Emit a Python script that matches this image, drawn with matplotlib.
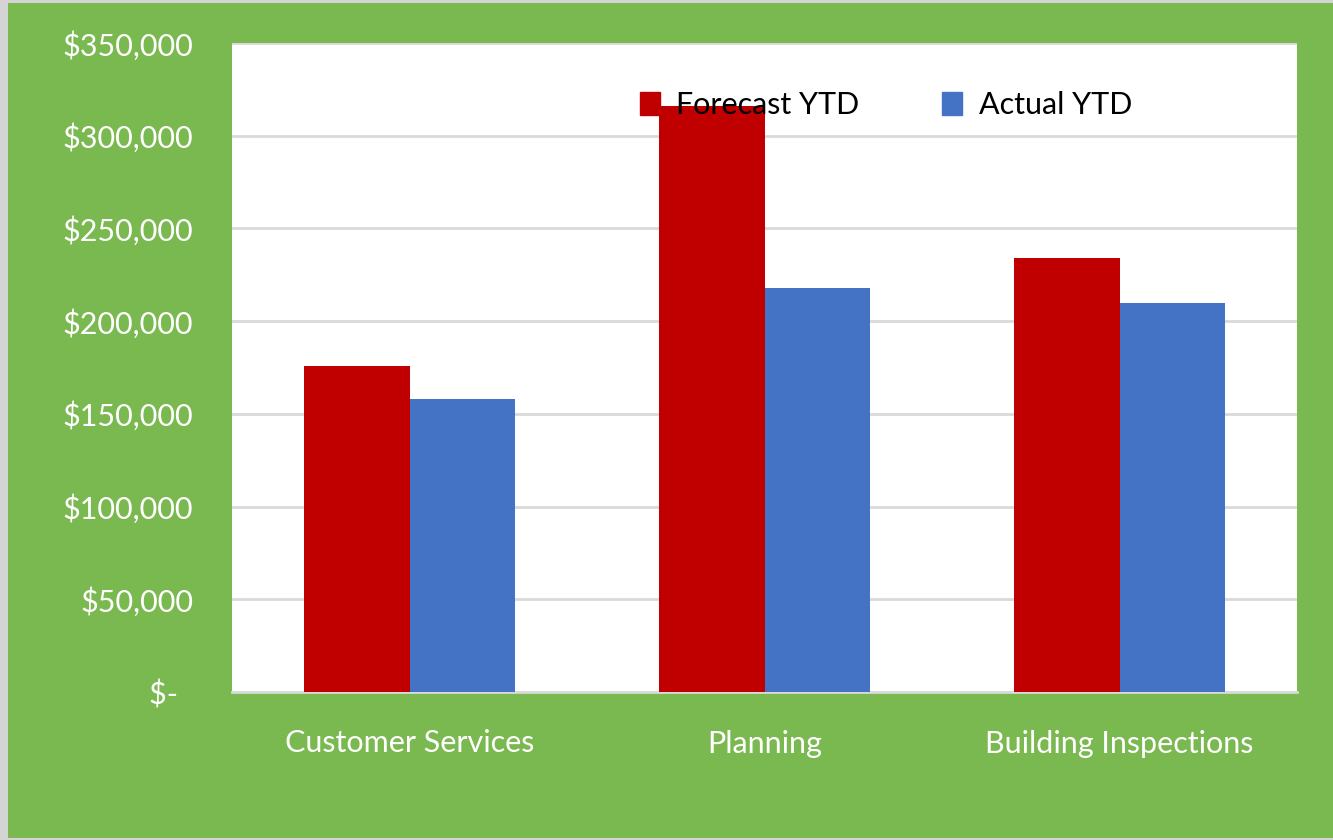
import numpy as np
import matplotlib.pyplot as plt
from matplotlib.patches import Rectangle, Patch
from matplotlib.ticker import FuncFormatter

# Data
categories = ["Customer Services", "Planning", "Building Inspections"]
forecast_ytd = [176000, 316000, 234000]
actual_ytd = [158000, 218000, 210000]

green = "#7AB850"
red = "#C00000"
blue = "#4472C4"

plt.rcParams['font.family'] = ['Lato', 'DejaVu Sans']

fig = plt.figure(figsize=(13.33, 8.4), dpi=100, facecolor="#D4D4D4")
fig.patches.append(Rectangle((8 / 1333, 2 / 840), 1 - 8 / 1333, 835 / 840,
                             transform=fig.transFigure, facecolor=green,
                             edgecolor="none", zorder=-10))

ax = fig.add_axes([232 / 1333, 148 / 840, 1065 / 1333, 649 / 840])
ax.set_facecolor("white")

x = np.arange(len(categories))
w = 0.296
ax.bar(x - w / 2, forecast_ytd, w, color=red, zorder=3)
ax.bar(x + w / 2, actual_ytd, w, color=blue, zorder=3)

ax.set_xlim(-0.5, len(categories) - 0.5)
ax.set_ylim(0, 350000)
ax.set_yticks(np.arange(0, 350001, 50000))
ax.yaxis.set_major_formatter(FuncFormatter(lambda v, p: "$-  " if v == 0 else f"${v:,.0f}"))
ax.set_xticks(x)
ax.set_xticklabels(categories)

ax.grid(axis="y", color="#D9D9D9", linewidth=2, zorder=0)
for s in ["left", "right", "top"]:
    ax.spines[s].set_visible(False)
ax.spines["bottom"].set_color("#D9D9D9")
ax.spines["bottom"].set_linewidth(2)
ax.tick_params(axis="both", length=0, colors="white", labelsize=22)
ax.tick_params(axis="y", pad=28)
ax.tick_params(axis="x", pad=27)

handles = [Patch(color=red, label="Forecast YTD"), Patch(color=blue, label="Actual YTD")]
leg = ax.legend(handles=handles, ncol=2, frameon=False, loc="center",
                bbox_to_anchor=(0.614, 0.904), fontsize=22,
                handlelength=0.65, handleheight=0.8, handletextpad=0.55,
                columnspacing=2.7)
leg.set_zorder(5)

fig.savefig("out.png", dpi=100, facecolor=fig.get_facecolor())
